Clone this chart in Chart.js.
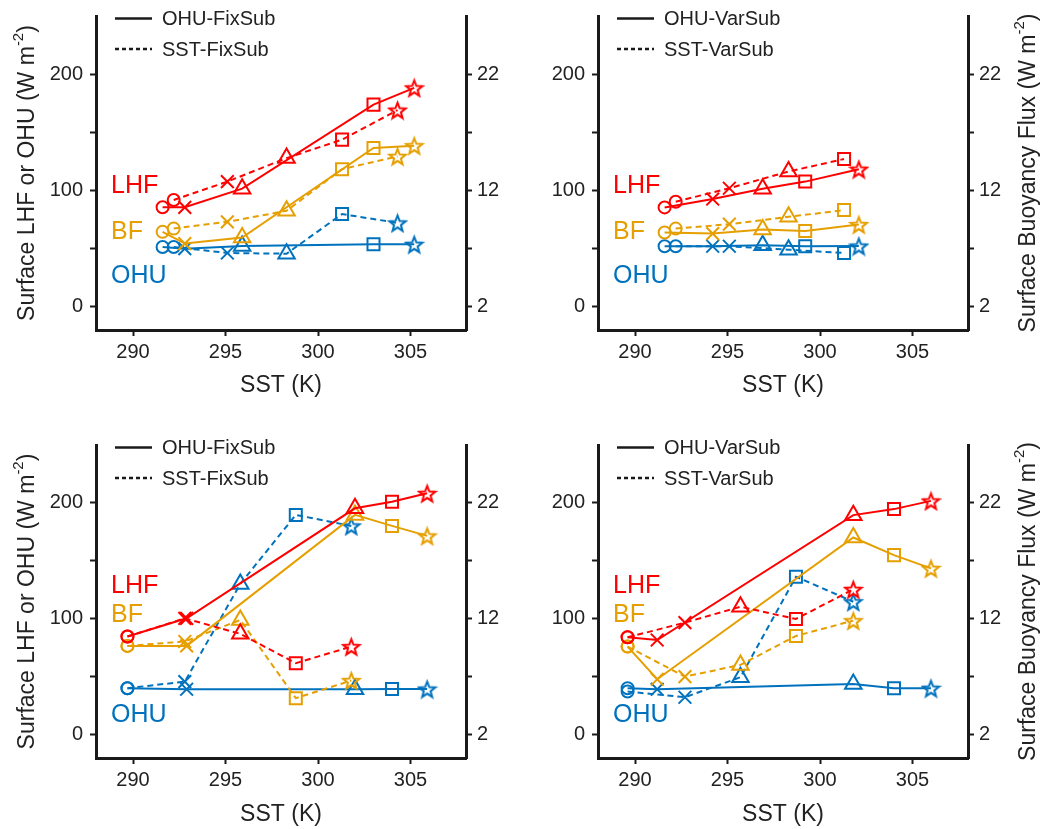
<!DOCTYPE html>
<html>
<head>
<meta charset="utf-8">
<script src="https://cdn.jsdelivr.net/npm/chart.js@4.4.1/dist/chart.umd.min.js"></script>
<style>
  html, body { margin: 0; padding: 0; background: #fff; }
  #wrap { position: relative; width: 1048px; height: 829px; overflow: hidden; background: #fff; }
  #wrap canvas { position: absolute; }
</style>
</head>
<body>
<div id="wrap">
  <canvas id="pa" width="524" height="415" style="left:0;top:0;width:524px;height:415px"></canvas>
  <canvas id="pb" width="524" height="415" style="left:524px;top:0;width:524px;height:415px"></canvas>
  <canvas id="pc" width="524" height="414" style="left:0;top:415px;width:524px;height:414px"></canvas>
  <canvas id="pd" width="524" height="414" style="left:524px;top:415px;width:524px;height:414px"></canvas>
</div>
<script>
// ---- axis ticks ----
const xTicks = [290, 295, 300, 305];
const leftTicks = [0, 50, 100, 150, 200];
const leftLabels = [0, 100, 200];
const rightTicks = [2, 7, 12, 17, 22];
const rightLabels = [2, 12, 22];

// ---- runs: markers in order circle, cross, triangle, square, star ----
// Panel a: FixSub (upper left)
const sstA_ohu = [291.6, 292.8, 295.9, 303.0, 305.2];
const sstA_sst = [292.2, 295.1, 298.3, 301.3, 304.3];
const lhfA_ohu = [85.5, 85.5, 101.5, 173.8, 188.2];
const lhfA_sst = [91.8, 107.6, 127.8, 143.7, 169.1];
const bfA_ohu  = [8.44, 7.43, 7.95, 15.65, 15.85];
const bfA_sst  = [8.72, 9.30, 10.25, 13.83, 14.93];
const ohuA_ohu = [51.4, 49.9, 52.2, 53.7, 53.7];
const ohuA_sst = [51.4, 46.2, 45.6, 79.7, 72.1];

// Panel b: VarSub (upper right)
const sstB_ohu = [291.6, 294.2, 296.9, 299.2, 302.1];
const sstB_sst = [292.2, 295.1, 298.3, 301.3];
const lhfB_ohu = [85.4, 92.6, 101.5, 107.6, 118.3];
const lhfB_sst = [90.3, 101.9, 116.3, 127.0];
const bfB_ohu  = [8.38, 8.29, 8.64, 8.52, 9.07];
const bfB_sst  = [8.72, 9.10, 9.73, 10.31];
const ohuB_ohu = [52.0, 52.0, 52.8, 52.0, 52.2];
const ohuB_sst = [52.0, 52.0, 49.1, 46.2];

// Panel c: FixSub (lower left)
const sstC_ohu = [289.7, 292.9, 302.0, 304.0, 305.9];
const sstC_sst = [289.7, 292.8, 295.8, 298.8, 301.8];
const lhfC_ohu = [84.8, 100.5, 195.4, 201.1, 208.3];
const lhfC_sst = [84.8, 100.5, 87.1, 61.8, 76.1];
const bfC_ohu  = [9.67, 9.67, 20.97, 20.02, 19.16];
const bfC_sst  = [9.67, 10.05, 11.91, 5.16, 6.68];
const ohuC_ohu = [40.2, 39.3, 39.3, 39.5, 39.5];
const ohuC_sst = [40.2, 45.9, 130.2, 189.7, 180.2];

// Panel d: VarSub (lower right)
const sstD_ohu = [289.6, 291.2, 301.8, 304.0, 306.0];
const sstD_sst = [289.6, 292.7, 295.7, 298.7, 301.8];
const lhfD_ohu = [84.1, 81.8, 189.5, 194.7, 201.8];
const lhfD_sst = [84.1, 96.8, 110.5, 99.9, 125.5];
const bfD_ohu  = [9.61, 6.79, 19.02, 17.50, 16.36];
const bfD_sst  = [9.61, 7.02, 8.03, 10.53, 11.85];
const ohuD_ohu = [40.2, 39.3, 43.9, 40.2, 40.2];
const ohuD_sst = [37.3, 32.4, 49.7, 136.4, 114.8];

// ---- styling ----
const FONT = "'Liberation Sans', Arial, Helvetica, sans-serif";
const RED = '#ff0000', ORANGE = '#e69f00', BLUE = '#0072bd';
const INK = '#1a1a1a', TEXT = '#222222';
const MARKERS = ['circle', 'crossRot', 'triangle', 'rect', 'star'];
const RADII = { circle: 6, crossRot: 9, triangle: 9.5, rect: 8.5, star: 9 };

// hollow five-pointed star used as a point style
function starMarker(color, R) {
  const s = Math.ceil(2 * R + 4);
  const c = document.createElement('canvas');
  c.width = s; c.height = s;
  const g = c.getContext('2d');
  g.strokeStyle = color; g.lineWidth = 2; g.lineJoin = 'miter';
  g.beginPath();
  for (let i = 0; i < 10; i++) {
    const r = i % 2 ? R * 0.42 : R;
    const a = -Math.PI / 2 + i * Math.PI / 5;
    g.lineTo(s / 2 + r * Math.cos(a), s / 2 + 1 + r * Math.sin(a));
  }
  g.closePath(); g.stroke();
  return c;
}
const STARS = { [RED]: starMarker(RED, 8.5), [ORANGE]: starMarker(ORANGE, 8.5), [BLUE]: starMarker(BLUE, 8.5) };

function series(sst, vals, color, dashed, axis) {
  const kinds = MARKERS.slice(0, vals.length);
  return {
    data: sst.map((x, i) => ({ x: x, y: vals[i] })),
    yAxisID: axis,
    borderColor: color,
    borderWidth: 2,
    borderDash: dashed ? [6, 4] : [],
    pointStyle: kinds.map(k => k === 'star' ? STARS[color] : k),
    pointRadius: kinds.map(k => RADII[k]),
    pointBorderColor: color,
    pointBackgroundColor: 'rgba(0,0,0,0)',
    pointBorderWidth: 2,
    tension: 0,
    fill: false
  };
}

// legend, variable tags and y-axis titles
const panelDecor = {
  id: 'panelDecor',
  afterDraw(chart, args, o) {
    const { ctx, chartArea: a } = chart;
    ctx.save();
    // legend
    o.names.forEach((txt, i) => {
      const y = a.top + (i ? 33 : 2.5);
      ctx.strokeStyle = INK; ctx.lineWidth = 2.5;
      ctx.setLineDash(i ? [4, 3] : []);
      ctx.beginPath(); ctx.moveTo(a.left + 19, y); ctx.lineTo(a.left + 56, y); ctx.stroke();
      ctx.setLineDash([]);
      ctx.fillStyle = TEXT; ctx.font = '20px ' + FONT;
      ctx.textBaseline = 'middle'; ctx.textAlign = 'left';
      ctx.fillText(txt, a.left + 66, y + 1);
    });
    // variable tags
    const ys = chart.scales.y;
    o.tags.forEach(t => {
      ctx.fillStyle = t.color; ctx.font = '25px ' + FONT;
      ctx.textBaseline = 'middle'; ctx.textAlign = 'left';
      ctx.fillText(t.text, a.left + 15, ys.getPixelForValue(t.at));
    });
    // rotated y title with superscript
    const cx = o.titleSide === 'left' ? 28 : chart.width - 19;
    const cy = (a.top + a.bottom) / 2;
    const parts = [[o.title, '23px ' + FONT, 0], ['-2', '15px ' + FONT, -9], [')', '23px ' + FONT, 0]];
    let total = 0;
    parts.forEach(p => { ctx.font = p[1]; p.push(ctx.measureText(p[0]).width); total += p[3]; });
    ctx.translate(cx, cy); ctx.rotate(-Math.PI / 2);
    ctx.fillStyle = TEXT; ctx.textBaseline = 'middle'; ctx.textAlign = 'left';
    let x0 = -total / 2;
    parts.forEach(p => { ctx.font = p[1]; ctx.fillText(p[0], x0, p[2]); x0 += p[3]; });
    ctx.restore();
  }
};

function clearPad(s) { s.paddingTop = 0; s.paddingBottom = 0; s.paddingLeft = 0; s.paddingRight = 0; }

function makePanel(id, area, cfg) {
  const cv = document.getElementById(id);
  const W = cv.width, H = cv.height;
  const gridOpts = { drawOnChartArea: false, drawTicks: true, tickLength: 6, tickWidth: 2, tickColor: INK, color: INK };
  const borderOpts = { display: true, width: 3, color: INK };
  const tickFont = { family: FONT, size: 20 };
  new Chart(cv, {
    type: 'line',
    data: { datasets: cfg.datasets },
    options: {
      responsive: false, animation: false, events: [],
      layout: { padding: { top: area.top, left: 0, right: 0, bottom: 0 } },
      plugins: {
        legend: { display: false }, tooltip: { enabled: false },
        panelDecor: { names: cfg.names, tags: cfg.tags, title: cfg.title, titleSide: cfg.titleSide }
      },
      scales: {
        x: {
          type: 'linear', min: 288, max: 308,
          afterBuildTicks: s => { s.ticks = xTicks.map(v => ({ value: v })); },
          afterFit: s => { s.height = H - area.bottom; clearPad(s); },
          grid: gridOpts, border: borderOpts,
          ticks: { font: tickFont, color: TEXT, padding: 4, maxRotation: 0, autoSkip: false },
          title: { display: true, text: 'SST (K)', color: TEXT, font: { family: FONT, size: 23 },
                   padding: { top: 0, bottom: cfg.xTitlePad } }
        },
        y: {
          position: 'left', min: -20, max: 250,
          afterBuildTicks: s => { s.ticks = leftTicks.map(v => ({ value: v })); },
          afterFit: s => { s.width = area.left; clearPad(s); },
          grid: gridOpts, border: borderOpts,
          ticks: { font: tickFont, color: TEXT, padding: 7, autoSkip: false,
                   callback: v => leftLabels.includes(v) ? String(v) : '' }
        },
        y2: {
          position: 'right', min: 0, max: 27,
          afterBuildTicks: s => { s.ticks = rightTicks.map(v => ({ value: v })); },
          afterFit: s => { s.width = W - area.right; clearPad(s); },
          grid: gridOpts, border: borderOpts,
          ticks: { font: tickFont, color: TEXT, padding: 5, autoSkip: false,
                   callback: v => rightLabels.includes(v) ? String(v) : '' }
        }
      }
    },
    plugins: [panelDecor]
  });
}

const TITLE_L = 'Surface LHF or OHU (W m';
const TITLE_R = 'Surface Buoyancy Flux (W m';

function tagsAt(lhf, bf, ohu) {
  return [{ text: 'LHF', color: RED, at: lhf }, { text: 'BF', color: ORANGE, at: bf }, { text: 'OHU', color: BLUE, at: ohu }];
}

makePanel('pa', { left: 96, right: 466, top: 16, bottom: 330 }, {
  names: ['OHU-FixSub', 'SST-FixSub'], title: TITLE_L, titleSide: 'left', xTitlePad: 16,
  tags: tagsAt(104, 64, 26),
  datasets: [
    series(sstA_ohu, lhfA_ohu, RED, false, 'y'), series(sstA_sst, lhfA_sst, RED, true, 'y'),
    series(sstA_ohu, bfA_ohu, ORANGE, false, 'y2'), series(sstA_sst, bfA_sst, ORANGE, true, 'y2'),
    series(sstA_ohu, ohuA_ohu, BLUE, false, 'y'), series(sstA_sst, ohuA_sst, BLUE, true, 'y')
  ]
});

makePanel('pb', { left: 74, right: 444, top: 16, bottom: 330 }, {
  names: ['OHU-VarSub', 'SST-VarSub'], title: TITLE_R, titleSide: 'right', xTitlePad: 16,
  tags: tagsAt(104, 64, 26),
  datasets: [
    series(sstB_ohu, lhfB_ohu, RED, false, 'y'), series(sstB_sst, lhfB_sst, RED, true, 'y'),
    series(sstB_ohu, bfB_ohu, ORANGE, false, 'y2'), series(sstB_sst, bfB_sst, ORANGE, true, 'y2'),
    series(sstB_ohu, ohuB_ohu, BLUE, false, 'y'), series(sstB_sst, ohuB_sst, BLUE, true, 'y')
  ]
});

makePanel('pc', { left: 96, right: 466, top: 30, bottom: 343 }, {
  names: ['OHU-FixSub', 'SST-FixSub'], title: TITLE_L, titleSide: 'left', xTitlePad: 1,
  tags: tagsAt(128, 103, 17),
  datasets: [
    series(sstC_ohu, lhfC_ohu, RED, false, 'y'), series(sstC_sst, lhfC_sst, RED, true, 'y'),
    series(sstC_ohu, bfC_ohu, ORANGE, false, 'y2'), series(sstC_sst, bfC_sst, ORANGE, true, 'y2'),
    series(sstC_ohu, ohuC_ohu, BLUE, false, 'y'), series(sstC_sst, ohuC_sst, BLUE, true, 'y')
  ]
});

makePanel('pd', { left: 74, right: 444, top: 30, bottom: 343 }, {
  names: ['OHU-VarSub', 'SST-VarSub'], title: TITLE_R, titleSide: 'right', xTitlePad: 1,
  tags: tagsAt(128, 103, 17),
  datasets: [
    series(sstD_ohu, lhfD_ohu, RED, false, 'y'), series(sstD_sst, lhfD_sst, RED, true, 'y'),
    series(sstD_ohu, bfD_ohu, ORANGE, false, 'y2'), series(sstD_sst, bfD_sst, ORANGE, true, 'y2'),
    series(sstD_ohu, ohuD_ohu, BLUE, false, 'y'), series(sstD_sst, ohuD_sst, BLUE, true, 'y')
  ]
});
</script>
</body>
</html>
